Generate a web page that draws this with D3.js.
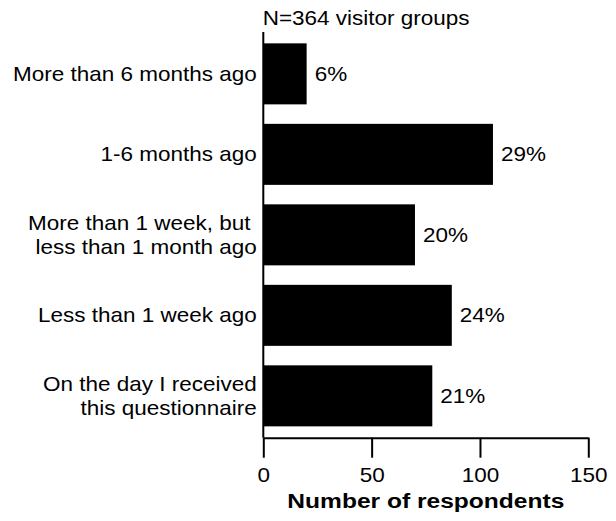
<!DOCTYPE html>
<html>
<head>
<meta charset="utf-8">
<script src="https://cdn.jsdelivr.net/npm/d3@7"></script>
<style>
  html, body { margin: 0; padding: 0; background: #fff; }
  svg { display: block; }
  text { font-family: "Liberation Sans", Arial, Helvetica, sans-serif; fill: #000; }
</style>
</head>
<body>
<script>
const categories = [
  ["More than 6 months ago"],
  ["1-6 months ago"],
  ["More than 1 week, but ", "less than 1 month ago"],
  ["Less than 1 week ago"],
  ["On the day I received", "this questionnaire"]
];
const values = [20, 106, 70, 87, 78];
const percentLabels = ["6%", "29%", "20%", "24%", "21%"];
const xTicks = [0, 50, 100, 150];
const titleText = "N=364 visitor groups";
const xAxisTitle = "Number of respondents";

const W = 616, H = 521;
const SX = 1.125; // horizontal text stretch seen in reference

const svg = d3.select("body").append("svg").attr("width", W).attr("height", H);

const x = d3.scaleLinear().domain([0, 150]).range([263.3, 588.3]);
const keys = categories.map((c, i) => i);
const y = d3.scaleBand().domain(keys).range([32, 437.7]).paddingInner(0.242).paddingOuter(0.141);

// bars
svg.append("g").selectAll("rect").data(values).join("rect")
  .attr("x", x(0))
  .attr("y", (d, i) => y(i))
  .attr("width", d => x(d) - x(0))
  .attr("height", y.bandwidth())
  .attr("fill", "#000");

// left axis line
svg.append("line")
  .attr("x1", x(0)).attr("x2", x(0))
  .attr("y1", 32).attr("y2", 437.7)
  .attr("stroke", "#000").attr("stroke-width", 2);

// bottom axis
const xAxis = svg.append("g")
  .attr("transform", `translate(0,437.7)`)
  .call(d3.axisBottom(x).tickValues(xTicks).tickSize(20).tickSizeOuter(0).tickFormat(d3.format("d")));
xAxis.select(".domain").attr("stroke", "#000").attr("stroke-width", 2);
xAxis.selectAll(".tick line").attr("stroke", "#000").attr("stroke-width", 2);
xAxis.selectAll(".tick text")
  .attr("y", 30).attr("dy", "0.71em")
  .attr("font-size", 20)
  .attr("font-family", "Liberation Sans, Arial, sans-serif")
  .attr("fill", "#000")
  .attr("transform", `scale(${SX},1)`);

function stretchedText(parent, tx, ty, str, anchor, size, weight, sx) {
  const g = parent.append("g").attr("transform", `translate(${tx},${ty}) scale(${sx || SX},1)`);
  return g.append("text")
    .attr("text-anchor", anchor)
    .attr("font-size", size)
    .attr("font-weight", weight || "normal")
    .style("white-space", "pre")
    .text(str);
}

// category labels
const lineGap = 24.5;
categories.forEach((lines, i) => {
  const cy = y(i) + y.bandwidth() / 2;
  const n = lines.length;
  lines.forEach((ln, j) => {
    const baseline = cy + 7 + (j - (n - 1) / 2) * lineGap;
    stretchedText(svg, 256.7, baseline, ln, "end", 20);
  });
});

// percentage labels
values.forEach((v, i) => {
  const cy = y(i) + y.bandwidth() / 2;
  stretchedText(svg, x(v) + 8, cy + 7, percentLabels[i], "start", 20);
});

// title
stretchedText(svg, 262.7, 25, titleText, "start", 20);

// x axis title
stretchedText(svg, (x(0) + x(150)) / 2, 508, xAxisTitle, "middle", 21, "bold", 1.17);
</script>
</body>
</html>
